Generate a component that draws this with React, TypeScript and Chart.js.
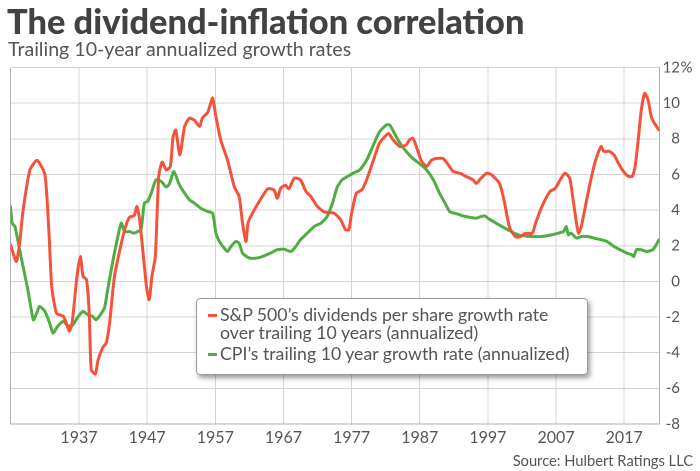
import React, { useEffect, useRef } from "react";
import { Chart, registerables } from "chart.js";

Chart.register(...registerables);

// S&P 500 dividends per share, trailing 10-year annualized growth (%)
const divYears = [
  1926.95, 1927.8, 1928.3, 1928.8, 1929.8, 1930.85, 1932.0, 1932.6, 1933.0, 1933.7,
  1934.7, 1935.1, 1935.6, 1936.0, 1936.7, 1937.2, 1937.6, 1938.1, 1938.5, 1938.8,
  1939.4, 1939.8, 1940.5, 1941.0, 1941.5, 1942.2, 1943.0, 1943.7, 1944.4, 1945.1,
  1945.5, 1945.9, 1946.4, 1946.9, 1947.3, 1947.7, 1948.2, 1948.7, 1949.2, 1949.8,
  1950.4, 1950.8, 1951.2, 1951.8, 1952.5, 1953.2, 1953.9, 1954.7, 1955.1, 1955.9,
  1956.6, 1957.0, 1957.8, 1958.8, 1959.8, 1960.5, 1961.0, 1961.5, 1961.8, 1962.2,
  1963.0, 1963.9, 1964.7, 1965.6, 1966.1, 1966.6, 1967.3, 1967.8, 1968.6, 1969.5,
  1970.3, 1971.0, 1972.0, 1973.0, 1974.4, 1975.4, 1976.1, 1976.6, 1977.0, 1977.7,
  1978.5, 1979.2, 1980.2, 1981.1, 1982.4, 1983.1, 1984.1, 1985.0, 1985.5, 1986.0,
  1986.5, 1987.2, 1988.0, 1988.7, 1989.4, 1990.4, 1991.1, 1991.9, 1992.9, 1993.8,
  1994.8, 1995.3, 1996.0, 1996.8, 1997.5, 1998.7, 1999.4, 2000.2, 2001.1, 2001.8,
  2002.5, 2003.5, 2004.0, 2004.7, 2005.4, 2006.1, 2006.9, 2007.6, 2008.3, 2009.0,
  2009.5, 2010.0, 2010.3, 2010.7, 2011.4, 2012.1, 2012.8, 2013.6, 2014.0, 2014.8,
  2015.5, 2016.2, 2016.9, 2017.6, 2018.2, 2018.6, 2019.1, 2019.5, 2020.0, 2020.5,
  2020.97, 2021.4, 2022.1,
];
const divValues = [
  2.06, 1.12, 2.2, 4.0, 6.26, 6.8, 6.0, 2.7, -0.3, -1.78,
  -1.96, -2.3, -2.8, -2.3, 0.28, 1.4, 0.28, 0.1, -1.78, -4.95,
  -5.2, -4.4, -3.7, -3.45, -2.3, 0.28, 1.78, 2.9, 3.6, 3.7,
  4.2, 3.46, 1.6, -0.28, -1.03, 0.28, 1.4, 5.9, 6.7, 6.26,
  6.45, 8.1, 8.5, 7.1, 8.7, 9.16, 9.06, 8.7, 9.16, 9.5,
  10.3, 9.44, 7.94, 6.8, 5.3, 4.77, 3.27, 2.24, 3.27, 3.64,
  4.2, 4.77, 5.2, 5.14, 4.67, 5.23, 5.4, 5.2, 5.8, 5.7,
  5.05, 4.77, 4.2, 3.9, 3.83, 3.46, 2.9, 2.9, 3.83, 4.95,
  5.14, 5.7, 6.8, 7.76, 8.3, 7.94, 7.57, 7.66, 7.94, 8.03,
  7.57, 6.8, 6.45, 6.8, 6.9, 6.9, 6.6, 6.17, 6.07, 5.89,
  5.7, 5.5, 5.8, 6.07, 6.0, 5.5, 4.5, 3.0, 2.5, 2.52,
  2.7, 2.7, 3.27, 4.0, 4.58, 5.05, 5.23, 5.7, 6.07, 5.8,
  4.58, 3.27, 2.7, 3.08, 4.4, 5.7, 6.8, 7.57, 7.3, 7.3,
  7.1, 6.6, 6.17, 5.9, 5.9, 6.45, 8.1, 9.6, 10.56, 10.2,
  9.25, 8.9, 8.5,
];

// CPI, trailing 10-year annualized growth (%)
const cpiYears = [
  1926.95, 1927.2, 1927.6, 1928.1, 1928.6, 1929.1, 1929.5, 1930.3, 1930.8, 1931.2,
  1932.0, 1932.7, 1933.2, 1933.9, 1934.7, 1935.4, 1936.1, 1936.9, 1937.6, 1938.3,
  1939.0, 1939.5, 1940.3, 1940.8, 1941.2, 1942.0, 1942.5, 1943.2, 1943.7, 1944.4,
  1945.1, 1945.6, 1946.1, 1946.6, 1947.1, 1947.6, 1948.3, 1949.1, 1949.8, 1950.3,
  1950.9, 1951.7, 1952.5, 1953.2, 1953.9, 1954.9, 1955.9, 1956.6, 1957.1, 1957.6,
  1958.3, 1958.8, 1959.3, 1960.0, 1960.5, 1961.0, 1962.0, 1963.0, 1963.9, 1965.1,
  1966.1, 1967.1, 1968.1, 1968.8, 1969.5, 1970.5, 1971.5, 1972.5, 1973.4, 1974.2,
  1974.9, 1975.6, 1976.4, 1977.2, 1978.2, 1979.2, 1980.2, 1981.1, 1982.1, 1982.6,
  1983.3, 1984.1, 1985.0, 1986.0, 1987.0, 1988.0, 1989.0, 1989.9, 1990.7, 1991.4,
  1992.4, 1993.3, 1994.3, 1995.3, 1996.0, 1996.5, 1997.2, 1998.2, 1999.2, 2000.4,
  2001.6, 2002.6, 2003.5, 2004.9, 2006.4, 2007.3, 2008.1, 2008.5, 2008.8, 2009.2,
  2010.0, 2010.7, 2011.6, 2012.6, 2013.6, 2014.5, 2015.5, 2016.4, 2017.4, 2018.1,
  2018.4, 2018.8, 2019.5, 2020.3, 2021.2, 2021.7, 2022.1,
];
const cpiValues = [
  4.2, 3.27, 3.08, 2.15, 1.2, 0.28, -0.47, -2.15, -1.78, -1.4,
  -1.68, -2.34, -2.9, -2.5, -2.24, -2.5, -2.43, -1.96, -1.68, -1.87,
  -1.96, -2.15, -1.78, -1.4, -0.47, 1.2, 2.15, 3.27, 2.8, 2.8,
  2.71, 2.8, 2.9, 4.4, 4.5, 4.95, 5.7, 5.6, 5.3, 5.5,
  6.17, 5.45, 4.95, 4.58, 4.4, 4.1, 3.92, 3.83, 2.71, 2.24,
  1.87, 1.68, 1.96, 2.24, 2.15, 1.59, 1.31, 1.31, 1.4, 1.59,
  1.78, 1.81, 1.68, 1.96, 2.34, 2.71, 3.08, 3.27, 3.64, 4.4,
  5.3, 5.7, 5.89, 6.07, 6.26, 6.8, 7.66, 8.4, 8.78, 8.78,
  8.3, 7.76, 7.3, 6.9, 6.6, 6.26, 5.7, 4.95, 4.4, 3.92,
  3.8, 3.68, 3.6, 3.55, 3.64, 3.68, 3.5, 3.27, 3.05, 2.8,
  2.6, 2.55, 2.52, 2.52, 2.62, 2.71, 2.8, 3.08, 2.62, 2.71,
  2.43, 2.52, 2.52, 2.43, 2.34, 2.24, 1.96, 1.78, 1.59, 1.5,
  1.4, 1.78, 1.78, 1.68, 1.78, 2.06, 2.34,
];

const xTickYears = [1937, 1947, 1957, 1967, 1977, 1987, 1997, 2007, 2017];
const yTickValues = [-8, -6, -4, -2, 0, 2, 4, 6, 8, 10, 12];
const X_MIN = 1926.95;
const X_MAX = 2022.15;

const RED = "#f4533b";
const GREEN = "#50ad42";
const TEXT = "#555555";
const GRID = "#d4d4d4";
const EDGE = "#b0b0b0";

const percentPlugin = {
  id: "percentSuffix",
  afterDraw(chart: any) {
    const s = chart.scales.y;
    const ctx = chart.ctx;
    ctx.save();
    ctx.font = "15px Lato";
    ctx.fillStyle = TEXT;
    ctx.textAlign = "left";
    ctx.textBaseline = "middle";
    ctx.fillText("%", s.right + 0.5, s.getPixelForValue(yTickValues[yTickValues.length - 1]));
    ctx.restore();
  },
};

function ChartCanvas() {
  const ref = useRef<HTMLCanvasElement>(null);
  useEffect(() => {
    if (!ref.current) return;
    const chart = new Chart(ref.current, {
      type: "line",
      data: {
        datasets: [
          {
            label: "S&P 500’s dividends per share growth rate over trailing 10 years (annualized)",
            data: divYears.map((x, i) => ({ x, y: divValues[i] })),
            borderColor: RED,
            borderWidth: 3,
            pointRadius: 0,
            tension: 0.2,
            borderJoinStyle: "round",
            borderCapStyle: "round",
          },
          {
            label: "CPI’s trailing 10 year growth rate (annualized)",
            data: cpiYears.map((x, i) => ({ x, y: cpiValues[i] })),
            borderColor: GREEN,
            borderWidth: 3,
            pointRadius: 0,
            tension: 0.2,
            borderJoinStyle: "round",
            borderCapStyle: "round",
          },
        ],
      },
      options: {
        responsive: false,
        animation: false,
        devicePixelRatio: 2,
        layout: { padding: { left: 10.5, right: 20, top: 67.6, bottom: 17 } },
        plugins: { legend: { display: false }, tooltip: { enabled: false }, title: { display: false } },
        scales: {
          x: {
            type: "linear",
            min: X_MIN,
            max: X_MAX,
            afterBuildTicks: (scale: any) => {
              scale.ticks = [X_MIN, ...xTickYears].map((value) => ({ value }));
            },
            afterFit: (scale: any) => {
              scale.height = 30;
            },
            ticks: {
              autoSkip: false,
              maxRotation: 0,
              padding: 4,
              color: TEXT,
              font: { family: "Lato", size: 16 },
              callback: (v: any) => (v === X_MIN ? "" : String(v)),
            },
            grid: {
              drawTicks: false,
              color: (ctx: any) => (ctx.tick && ctx.tick.value === X_MIN ? EDGE : GRID),
              lineWidth: 1,
            },
            border: { display: true, color: EDGE, width: 1 },
          },
          y: {
            position: "right",
            min: -8,
            max: 12,
            afterBuildTicks: (scale: any) => {
              scale.ticks = yTickValues.map((value) => ({ value }));
            },
            afterFit: (scale: any) => {
              scale.width = 20.7;
            },
            ticks: {
              padding: 3,
              crossAlign: "far",
              color: TEXT,
              font: { family: "Lato", size: 15 },
              callback: (v: any) => String(v),
            },
            grid: { drawTicks: false, color: GRID, lineWidth: 1 },
            border: { display: true, color: EDGE, width: 1 },
          },
        },
      },
      plugins: [percentPlugin],
    } as any);
    return () => chart.destroy();
  }, []);
  return <canvas ref={ref} width={700} height={471} style={{ width: 700, height: 471, display: "block" }} />;
}

export default function App() {
  const font = "Lato, 'Open Sans', sans-serif";
  return (
    <div style={{ position: "absolute", left: 0, top: 0, width: 700, height: 471, background: "#fff", overflow: "hidden" }}>
      <ChartCanvas />
      <div
        style={{
          position: "absolute", left: 7, top: 4, fontFamily: font, fontWeight: 900, fontSize: 34.4,
          lineHeight: "34px", color: "#424242", whiteSpace: "nowrap",
        }}
      >
        The dividend-inflation correlation
      </div>
      <div
        style={{
          position: "absolute", left: 8, top: 39, fontFamily: font, fontSize: 19.6,
          lineHeight: "19px", color: TEXT, whiteSpace: "nowrap",
        }}
      >
        Trailing 10-year annualized growth rates
      </div>
      <div
        style={{
          position: "absolute", right: 7, top: 453, fontFamily: font, fontSize: 14.7,
          lineHeight: "15px", color: TEXT, whiteSpace: "nowrap",
        }}
      >
        Source: Hulbert Ratings LLC
      </div>
      <div
        style={{
          position: "absolute", left: 196, top: 298, width: 392, height: 77, boxSizing: "border-box",
          border: "1px solid #9a9a9a", borderRadius: 4, background: "#fff",
          boxShadow: "2px 3px 5px rgba(0,0,0,0.4)", fontFamily: font, fontSize: 17.7, color: TEXT,
        }}
      >
        <div style={{ position: "absolute", left: 11, top: 7, display: "flex", alignItems: "flex-start", lineHeight: "17.5px" }}>
          <span style={{ display: "inline-block", width: 9, height: 3, background: RED, marginTop: 8, marginRight: 3 }} />
          <span style={{ whiteSpace: "nowrap" }}>
            S&amp;P 500’s dividends per share growth rate
            <br />
            over trailing 10 years (annualized)
          </span>
        </div>
        <div style={{ position: "absolute", left: 11, top: 46, display: "flex", alignItems: "flex-start", lineHeight: "17.5px" }}>
          <span style={{ display: "inline-block", width: 9, height: 3, background: GREEN, marginTop: 8, marginRight: 3 }} />
          <span style={{ whiteSpace: "nowrap" }}>CPI’s trailing 10 year growth rate (annualized)</span>
        </div>
      </div>
    </div>
  );
}
